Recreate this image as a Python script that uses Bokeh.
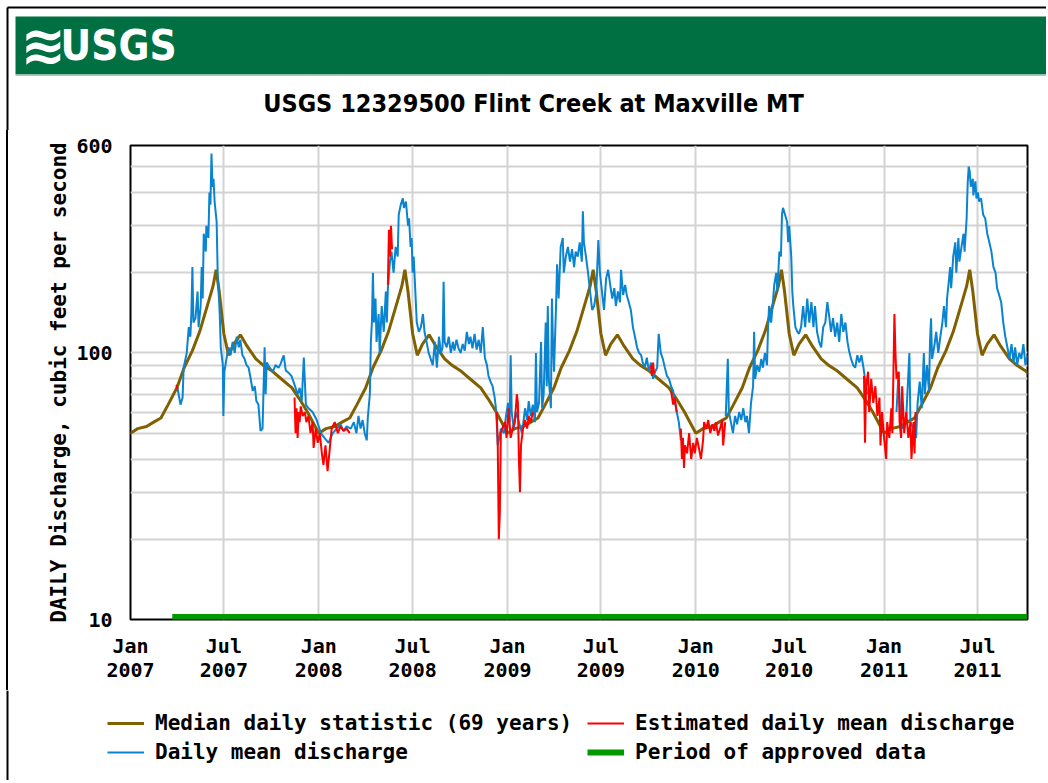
import numpy as np
import pandas as pd
from bokeh.plotting import figure
from bokeh.models import (Range1d, FixedTicker, MonthsTicker, DatetimeTickFormatter,
                          NumeralTickFormatter, Legend, LegendItem)
from bokeh.core.properties import value
from bokeh.embed import file_html
from bokeh.resources import INLINE

# ---------------- data ----------------
TITLE = "USGS 12329500 Flint Creek at Maxville MT"
Y_LABEL = "DAILY Discharge, cubic feet per second"
START = "2007-01-01"          # day 0 of the day offsets below
END_DAY = 1739                # right edge of the chart (days since START)

# median daily statistic (69 years): annual profile, month-day -> cfs
median_md = ["01-01", "01-15", "02-01", "02-15", "03-01", "03-15", "04-01", "04-15", "05-01",
             "05-15", "06-01", "06-10", "06-16", "06-22", "07-01", "07-10", "07-20", "08-02",
             "08-15", "09-01", "09-15", "10-01", "10-20", "11-10", "11-25", "12-10", "12-25"]
median_cfs = [50, 52, 53, 55, 57, 64, 74, 88, 102,
              120, 155, 178, 205, 170, 118, 98, 108, 117,
              106, 95, 90, 86, 80, 74, 67, 60, 53]
median_years = [2007, 2008, 2009, 2010, 2011]

# daily mean discharge (days since START, cfs), three stretches
mean1_day = [91, 97, 101, 103, 109, 113, 116, 118, 120, 122,
             126, 130, 132, 136, 138, 140, 142, 146, 147, 151,
             153, 155, 157, 159, 161, 163, 167, 169, 173, 175,
             179, 180, 182, 186, 190, 194, 198, 202, 206, 210,
             213, 217, 221, 225, 229, 233, 237, 241, 244, 248,
             252, 256, 260, 262, 264, 270, 276, 281, 287, 291,
             297, 301, 307, 312, 316, 320, 324, 328, 332, 336,
             340, 345, 353, 361, 369, 376, 384, 392, 400, 407,
             413, 419, 427, 433, 438, 442, 446, 450, 454, 458,
             460, 464, 466, 468, 470, 472, 475, 477, 481, 483,
             487, 491, 495, 497, 499, 503, 506, 510, 514, 518,
             520, 524, 528, 530, 534, 538, 540, 543, 545, 547,
             549, 551, 555, 559, 563, 567, 570, 574, 578, 582,
             586, 590, 594, 598, 602, 605, 607, 609, 613, 617,
             621, 625, 628, 632, 636, 640, 644, 648, 652, 656,
             659, 663, 667, 671, 675, 679, 683, 687, 691, 694,
             698, 702, 706, 708, 710, 712, 714, 718, 724, 728,
             732, 735, 737, 739, 743, 747, 753, 759, 765, 769,
             772, 776, 780, 784, 786, 788, 792, 796, 798, 801,
             805, 807, 809, 811, 815, 817, 819, 821, 825, 827,
             830, 834, 838, 840, 844, 848, 852, 856, 860, 863,
             867, 871, 875, 877, 879, 883, 887, 891, 895, 899,
             903, 907, 910, 914, 918, 922, 926, 930, 934, 938,
             941, 945, 949, 951, 955, 959, 962, 966, 970, 974,
             978, 982, 986, 990, 993, 997, 1001, 1005, 1009, 1013,
             1017, 1021, 1024, 1028, 1032, 1036, 1040, 1044, 1048, 1052,
             1055, 1059, 1063, 1067]
mean1_cfs = [74, 64, 68, 88, 100, 125, 115, 140, 210, 130,
             135, 170, 125, 150, 210, 160, 280, 240, 300, 270,
             400, 360, 560, 420, 450, 370, 310, 200, 140, 105,
             90, 58, 85, 95, 105, 98, 110, 100, 115, 105,
             112, 98, 95, 90, 88, 80, 72, 75, 66, 64,
             51, 52, 105, 70, 92, 88, 85, 90, 88, 91,
             98, 86, 84, 82, 78, 74, 70, 74, 66, 96,
             64, 62, 60, 56, 50, 48, 46, 50, 52, 54,
             51, 53, 52, 55, 50, 58, 52, 56, 50, 47,
             57, 70, 110, 130, 200, 130, 160, 110, 140, 100,
             150, 120, 170, 130, 175, 220, 240, 200, 250, 230,
             330, 360, 380, 350, 370, 300, 320, 250, 270, 200,
             230, 190, 130, 120, 125, 140, 120, 110, 100, 95,
             90, 110, 88, 115, 100, 105, 185, 110, 105, 115,
             100, 110, 102, 112, 104, 100, 108, 102, 120, 108,
             115, 104, 118, 103, 112, 100, 125, 96, 90, 82,
             78, 75, 68, 63, 55, 45, 47, 52, 50, 58,
             65, 55, 98, 60, 52, 60, 55, 50, 62, 56,
             66, 58, 64, 55, 100, 60, 65, 110, 62, 70,
             130, 75, 150, 80, 62, 160, 110, 85, 150, 215,
             160, 250, 270, 200, 230, 250, 220, 245, 210, 240,
             230, 260, 220, 340, 260, 230, 200, 170, 145, 150,
             170, 265, 200, 170, 145, 190, 205, 180, 160, 175,
             150, 170, 155, 205, 165, 180, 165, 155, 145, 125,
             115, 105, 100, 98, 92, 88, 96, 85, 92, 80,
             85, 88, 118, 100, 95, 88, 82, 80, 75, 72,
             66, 60, 55, 47]

mean2_day = [1154, 1158, 1160, 1164, 1168, 1172, 1176, 1180, 1184, 1188,
             1192, 1195, 1199, 1203, 1207, 1209, 1211, 1215, 1219, 1223,
             1226, 1230, 1234, 1236, 1238, 1242, 1246, 1248, 1252, 1254,
             1258, 1261, 1263, 1265, 1269, 1273, 1275, 1277, 1281, 1283,
             1285, 1289, 1293, 1296, 1300, 1304, 1308, 1312, 1316, 1320,
             1324, 1327, 1331, 1335, 1339, 1343, 1347, 1351, 1355, 1358,
             1362, 1366, 1370, 1374, 1378, 1382, 1386, 1390, 1393, 1397,
             1401, 1405, 1409, 1413, 1417, 1421, 1424, 1428]
mean2_cfs = [58, 95, 60, 55, 50, 58, 54, 60, 56, 62,
             55, 58, 50, 65, 75, 120, 80, 90, 85, 95,
             88, 100, 90, 125, 150, 130, 160, 180, 200, 170,
             240, 230, 330, 350, 330, 310, 260, 300, 230, 170,
             150, 125, 120, 118, 125, 150, 125, 160, 130, 155,
             125, 150, 120, 110, 105, 125, 130, 155, 135, 120,
             135, 115, 130, 110, 140, 120, 130, 110, 102, 95,
             90, 88, 98, 92, 98, 88, 80, 70]

mean3_day = [1485, 1489, 1493, 1498, 1504, 1510, 1512, 1518, 1523, 1526,
             1530, 1534, 1538, 1540, 1544, 1548, 1550, 1552, 1554, 1558,
             1562, 1566, 1570, 1574, 1577, 1581, 1583, 1587, 1589, 1591,
             1595, 1599, 1601, 1605, 1607, 1611, 1615, 1617, 1621, 1623,
             1625, 1627, 1629, 1633, 1634, 1638, 1640, 1643, 1645, 1649,
             1653, 1657, 1661, 1665, 1669, 1673, 1677, 1680, 1684, 1688,
             1692, 1696, 1700, 1704, 1708, 1712, 1715, 1719, 1723, 1727,
             1731, 1735, 1739]
mean3_cfs = [60, 85, 55, 52, 58, 100, 55, 52, 48, 65,
             78, 62, 100, 70, 90, 72, 110, 135, 95, 105,
             120, 100, 115, 130, 150, 125, 160, 190, 210, 175,
             230, 260, 200, 270, 220, 250, 280, 240, 320, 430,
             500, 480, 420, 450, 390, 440, 380, 400, 370, 380,
             330, 320, 280, 260, 240, 210, 200, 175, 165, 155,
             130, 115, 105, 95, 108, 92, 105, 90, 100, 95,
             108, 90, 98]

# estimated daily mean discharge (days since START, cfs)
est1_day = [89, 91]
est1_cfs = [76, 73]
est2_day = [318, 320, 322, 324, 326, 328, 330, 334, 338, 341, 345, 349, 353, 355, 359,
            363, 367, 371, 374, 378, 382, 386, 390, 396, 402, 407, 413, 419, 425]
est2_cfs = [68, 50, 62, 48, 60, 55, 63, 58, 60, 55, 58, 50, 55, 44, 52,
            46, 50, 42, 38, 45, 36, 43, 52, 55, 50, 53, 51, 52, 50]
est3_day = [499, 501, 503, 505, 507]
est3_cfs = [180, 290, 230, 300, 245]
est4_day = [710, 712, 714, 716, 718, 722, 726, 729, 733, 737, 741, 745, 749, 751, 753,
            755, 757, 761, 765, 769, 772, 776, 780]
est4_cfs = [60, 45, 20, 25, 50, 53, 55, 48, 62, 48, 52, 55, 70, 65, 40,
            30, 45, 52, 56, 52, 58, 55, 60]
est5_day = [1009, 1011, 1013, 1015]
est5_cfs = [90, 82, 92, 84]
est6_day = [1048, 1052, 1055, 1059]
est6_cfs = [72, 64, 68, 60]
est7_day = [1067, 1069, 1071, 1073, 1075, 1079, 1083, 1087, 1091, 1094, 1098, 1102, 1106,
            1110, 1112, 1116, 1120, 1124, 1128, 1132, 1135, 1139, 1143, 1147, 1149, 1153]
est7_cfs = [52, 40, 48, 37, 45, 42, 50, 40, 46, 42, 48, 44, 40,
            47, 55, 52, 56, 50, 54, 51, 55, 49, 52, 56, 45, 55]
est8_day = [1422, 1424, 1426, 1430, 1432, 1436, 1440, 1444, 1448, 1452, 1454, 1457, 1461,
            1465, 1467, 1471, 1475, 1477, 1481, 1483, 1485, 1489, 1491, 1494, 1496, 1500,
            1504, 1508, 1512, 1514, 1518, 1520, 1522]
est8_cfs = [82, 46, 75, 85, 60, 80, 65, 75, 58, 68, 45, 60, 48,
            40, 55, 48, 62, 50, 140, 100, 80, 85, 55, 48, 75, 50,
            60, 48, 55, 40, 55, 42, 60]

# period of approved data (days since START)
approved_start_day = 81
approved_end_day = 1739

y_ticks = [10, 100, 600]
y_grid = [20, 30, 40, 50, 60, 70, 80, 90, 100, 200, 300, 400, 500]

# ---------------- styling ----------------
W = 1046
H_HDR, H_MAIN, H_LEG = 130, 560, 90
MED_COLOR = "#806000"
MEAN_COLOR = "#0A84D0"
EST_COLOR = "#FF0000"
APPR_COLOR = "#009A00"
GREEN_HDR = "#006F41"
GRID = "#D3D3D3"
MONO = "DejaVu Sans Mono"
COND = "'DejaVu Sans Condensed', 'Liberation Sans Narrow', 'Liberation Sans', sans-serif"

start = np.datetime64(START, "ms")


def to_dates(days):
    return start + np.array(days, dtype="int64").astype("timedelta64[D]").astype("timedelta64[ms]")


def blank(height):
    f = figure(width=W, height=height, x_range=Range1d(0, W), y_range=Range1d(height, 0),
               x_axis_location=None, y_axis_location=None, toolbar_location=None,
               output_backend="svg", min_border=0, outline_line_color=None)
    f.grid.visible = False
    f.border_fill_color = "white"
    f.background_fill_color = "white"
    return f


# ---- header: band, logo, title ----
hdr = blank(H_HDR)
hdr.segment(x0=[7, 7], y0=[7, 7], x1=[W, 7], y1=[7, H_HDR], line_color="black", line_width=2)
hdr.quad(left=[15], right=[W], top=[16], bottom=[74], fill_color=GREEN_HDR, line_color=None)
hdr.quad(left=[15], right=[W], top=[74], bottom=[75.5], fill_color="#A8C9B8", line_color=None)
hdr.text(x=[20], y=[45], text=["≋"], text_color="white", text_font=value("DejaVu Sans"),
         text_font_style="bold", text_font_size="54px", text_baseline="middle", text_align="left")
hdr.text(x=[60], y=[45], text=["USGS"], text_color="white", text_font=value(COND),
         text_font_style="bold", text_font_size="42px", text_baseline="middle", text_align="left")
hdr.text(x=[533], y=[103], text=[TITLE], text_color="black", text_font=value(COND),
         text_font_style="bold", text_font_size="25px", text_baseline="middle", text_align="center")

# ---- main chart ----
TOP = 145 - H_HDR
x0 = pd.Timestamp(START)
p = figure(width=W, height=H_MAIN, x_axis_type="datetime", y_axis_type="log",
           x_range=Range1d(x0, x0 + pd.Timedelta(days=END_DAY)), y_range=Range1d(10, 600),
           toolbar_location=None, output_backend="svg",
           min_border_left=130, min_border_right=W - 1027, min_border_top=TOP,
           min_border_bottom=H_HDR + H_MAIN - 619)
p.outline_line_color = "black"
p.outline_line_width = 2
p.background_fill_color = "white"
p.border_fill_alpha = 0
p.styles = {"background": "linear-gradient(90deg, #fff 6px, #000 6px, #000 8px, #fff 8px)"}

p.xaxis.ticker = MonthsTicker(months=[0, 6])
p.xaxis.formatter = DatetimeTickFormatter(months="%b\n%Y", days="%b\n%Y", years="%b\n%Y")
p.yaxis.ticker = FixedTicker(ticks=y_ticks)
p.yaxis.formatter = NumeralTickFormatter(format="0")
for ax in (p.xaxis[0], p.yaxis[0]):
    ax.axis_line_color = None
    ax.major_tick_line_color = None
    ax.minor_tick_line_color = None
    ax.major_label_text_font = MONO
    ax.major_label_text_font_style = "bold"
    ax.major_label_text_font_size = "20px"
    ax.major_label_text_color = "black"
p.xaxis.major_label_standoff = 8
p.xaxis.major_label_text_line_height = 1.0
p.yaxis.major_label_standoff = 12
p.yaxis.axis_label = Y_LABEL
p.yaxis.axis_label_text_font = MONO
p.yaxis.axis_label_text_font_style = "bold"
p.yaxis.axis_label_text_font_size = "21px"
p.yaxis.axis_label_text_color = "black"
p.yaxis.axis_label_standoff = 2

p.xgrid.grid_line_color = GRID
p.xgrid.grid_line_width = 2
p.ygrid.ticker = FixedTicker(ticks=y_grid)
p.ygrid.grid_line_color = GRID
p.ygrid.grid_line_width = 2

# median: the same annual statistic for every year shown
med_dates = np.concatenate([np.array([f"{yr}-{md}" for md in median_md], dtype="datetime64[ms]")
                            for yr in median_years])
med_vals = np.tile(np.array(median_cfs, dtype=float), len(median_years))
p.line(x=med_dates, y=med_vals, line_color=MED_COLOR, line_width=3)

for d, v in [(mean1_day, mean1_cfs), (mean2_day, mean2_cfs), (mean3_day, mean3_cfs)]:
    p.line(x=to_dates(d), y=v, line_color=MEAN_COLOR, line_width=2)

for d, v in [(est1_day, est1_cfs), (est2_day, est2_cfs), (est3_day, est3_cfs), (est4_day, est4_cfs),
             (est5_day, est5_cfs), (est6_day, est6_cfs), (est7_day, est7_cfs), (est8_day, est8_cfs)]:
    p.line(x=to_dates(d), y=v, line_color=EST_COLOR, line_width=2)

p.segment(x0=to_dates([approved_start_day]), x1=to_dates([approved_end_day]), y0=[10], y1=[10],
          line_color=APPR_COLOR, line_width=11)

# ---- legend (key glyphs sit outside the visible range; only their legend entries show) ----
lg = blank(H_LEG)
lg.segment(x0=[7], y0=[0], x1=[7], y1=[H_LEG], line_color="black", line_width=2)
off_x, off_y = [-50, -40], [-50, -50]
k_med = lg.line(x=off_x, y=off_y, line_color=MED_COLOR, line_width=3)
k_mean = lg.line(x=off_x, y=off_y, line_color=MEAN_COLOR, line_width=2)
k_est = lg.line(x=off_x, y=off_y, line_color=EST_COLOR, line_width=2)
k_appr = lg.line(x=off_x, y=off_y, line_color=APPR_COLOR, line_width=6)


def make_legend(items, loc):
    return Legend(items=items, location=loc, orientation="vertical", glyph_width=37,
                  glyph_height=20, label_height=20, spacing=5, padding=0, margin=0,
                  label_standoff=11, border_line_color=None, background_fill_alpha=0,
                  label_text_font=MONO, label_text_font_style="bold",
                  label_text_font_size="21px", label_text_color="black")


LEG_BOTTOM = 16
lg.add_layout(make_legend([LegendItem(label="Median daily statistic (69 years)", renderers=[k_med]),
                           LegendItem(label="Daily mean discharge", renderers=[k_mean])],
                          (107, LEG_BOTTOM)))
lg.add_layout(make_legend([LegendItem(label="Estimated daily mean discharge", renderers=[k_est]),
                           LegendItem(label="Period of approved data", renderers=[k_appr])],
                          (587, LEG_BOTTOM)))

open("out.html", "w").write(file_html([hdr, p, lg], INLINE, title=TITLE))
